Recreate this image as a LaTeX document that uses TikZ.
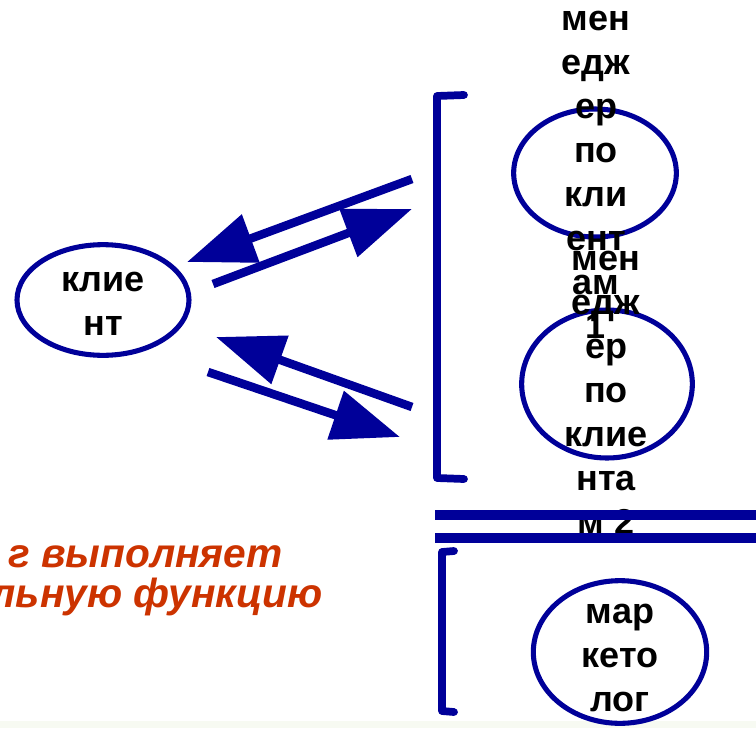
\documentclass[tikz,border=0pt]{standalone}
\usepackage{fontspec}
\setmainfont{Liberation Sans}
\usetikzlibrary{shapes.geometric,arrows.meta}
\definecolor{dblue}{RGB}{0,0,153}
\definecolor{redtxt}{RGB}{204,51,0}
\definecolor{strip}{RGB}{247,250,242}
\tikzset{
  x=0.75pt,y=-0.75pt,
  oval/.style={ellipse,draw=dblue,line width=3.8pt,inner sep=0pt},
  lbl/.style={font=\fontsize{27}{33}\selectfont\bfseries,align=center,inner sep=0pt,text=black},
  redlbl/.style={font=\fontsize{30.5}{30}\selectfont\bfseries\itshape,text=redtxt,inner sep=0pt,anchor=base east},
  arr/.style={draw=dblue,line width=6.4pt,-{Triangle[length=51pt,width=37pt]},fill=dblue},
  brk/.style={draw=dblue,line width=5.8pt,line cap=round,line join=round},
  bar/.style={draw=dblue,line width=7pt}
}
\begin{document}
\begin{tikzpicture}
\useasboundingbox (0,0) rectangle (756,728);
\fill[white] (0,0) rectangle (756,728);
\fill[strip] (0,721) rectangle (756,728);
% ellipses
\node[oval,minimum width=129pt,minimum height=83pt] (client) at (103,300) {};
\node[oval,minimum width=122pt,minimum height=96pt] (m1) at (595,173) {};
\node[oval,minimum width=128pt,minimum height=111pt] (m2) at (607,384) {};
\node[oval,minimum width=130pt,minimum height=107pt] (mk) at (620,652) {};
% texts
\node[lbl] (tclient) at (103,304) {клие\\нт};
\node[lbl] (tm1) at (596,175) {мен\\едж\\ер\\по\\кли\\ент\\ам\\1};
\node[lbl] (tm2) at (606,393) {мен\\едж\\ер\\по\\клие\\нта\\м 2};
\node[lbl] (tmk) at (620,658) {мар\\кето\\лог};
% brackets
\draw[brk] (464,95) -- (437,96) -- (437,478) -- (464,479);
\draw[brk] (454,551) -- (442,552) -- (442,711) -- (454,712);
% double bars
\draw[bar] (435,515) -- (756,515);
\draw[bar] (435,538) -- (756,538);
% arrows
\coordinate (a1s) at (412,179); \coordinate (a1e) at (187,262);
\coordinate (a2s) at (213,284); \coordinate (a2e) at (412,209);
\coordinate (a3s) at (412,407); \coordinate (a3e) at (216,337);
\coordinate (a4s) at (208,372); \coordinate (a4e) at (400,437);
\draw[arr] (a1s) -- (a1e);
\draw[arr] (a2s) -- (a2e);
\draw[arr] (a3s) -- (a3e);
\draw[arr] (a4s) -- (a4e);
% red text
\node[redlbl] (r1) at (283,567) {г выполняет};
\node[redlbl] (r2) at (323,607) {льную функцию};
\end{tikzpicture}
\end{document}
